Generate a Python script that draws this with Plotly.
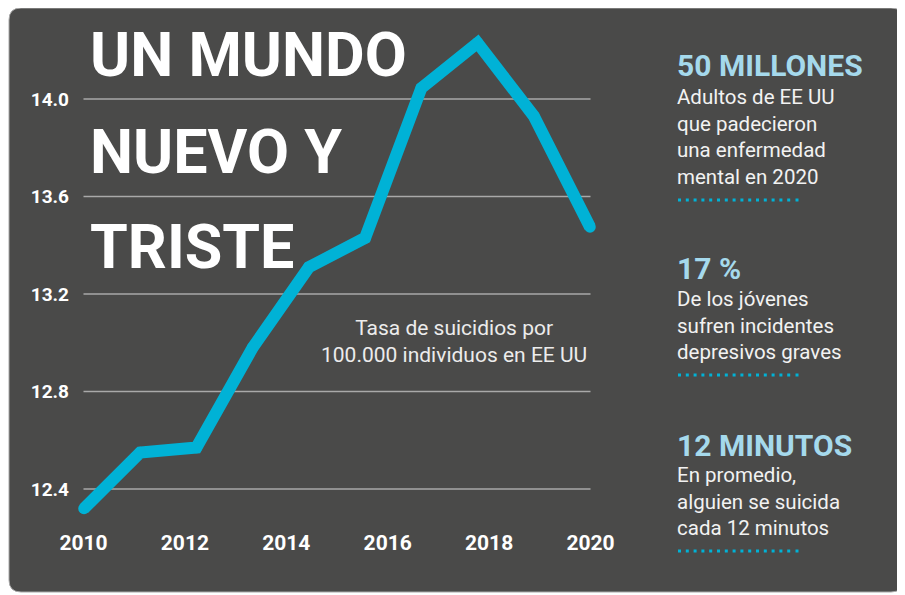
import plotly.graph_objects as go

# ---------------- data ----------------
sample = [1, 2, 3, 4, 5, 6, 7, 8, 9, 10]
rate = [12.32, 12.55, 12.57, 12.98, 13.31, 13.43, 14.045, 14.23, 13.93, 13.475]
x_ticks = [2010, 2012, 2014, 2016, 2018, 2020]
x_labels = ["2010", "2012", "2014", "2016", "2018", "2020"]
y_ticks = [12.4, 12.8, 13.2, 13.6, 14.0]
y_labels = ["12.4", "12.8", "13.2", "13.6", "14.0"]

title_lines = ["UN MUNDO", "NUEVO Y", "TRISTE"]
chart_note = "Tasa de suicidios por<br>100.000 individuos en EE UU"
facts_head = ["50 MILLONES", "17 %", "12 MINUTOS"]
facts_body = [
    "Adultos de EE UU<br>que padecieron<br>una enfermedad<br>mental en 2020",
    "De los jóvenes<br>sufren incidentes<br>depresivos graves",
    "En promedio,<br>alguien se suicida<br>cada 12 minutos",
]

# ---------------- geometry (page pixel coordinates) ----------------
PAGE_W, PAGE_H = 905, 595
OFF = 8  # default body margin of the html page
L, R, T, B = 74, 601, 26, 526
PW, PH = R - L, B - T

def year_at(px):
    return 2010 + (px - 83.5) / 50.7

def idx_at(px):
    return 1 + (px - 84) / ((590 - 84) / 9)

def val_at(py):
    return 14.0 - (py - 99) / 243.75

def xp(px):
    return (px - L) / PW

def yp(py):
    return 1 - (py - T) / PH

PANEL = "#4a4a49"
CYAN = "#00b2d6"
LIGHTBLUE = "#a5d9ec"
BOLD = "Roboto"

fig = go.Figure()
fig.add_trace(go.Scatter(
    x=sample, y=rate, xaxis="x2", yaxis="y",
    mode="lines+markers",
    line=dict(color=CYAN, width=12),
    marker=dict(color=CYAN, size=11.5, line=dict(width=0)),
    cliponaxis=False, hoverinfo="skip", showlegend=False,
))

# panel with rounded corners
x0, y0, x1, y1, r = 9, 8, 903, 592, 12
path = (
    f"M {xp(x0 + r)} {yp(y0)} L {xp(x1 - r)} {yp(y0)} "
    f"Q {xp(x1)} {yp(y0)} {xp(x1)} {yp(y0 + r)} "
    f"L {xp(x1)} {yp(y1 - r)} Q {xp(x1)} {yp(y1)} {xp(x1 - r)} {yp(y1)} "
    f"L {xp(x0 + r)} {yp(y1)} Q {xp(x0)} {yp(y1)} {xp(x0)} {yp(y1 - r)} "
    f"L {xp(x0)} {yp(y0 + r)} Q {xp(x0)} {yp(y0)} {xp(x0 + r)} {yp(y0)} Z"
)
shapes = [dict(type="path", path=path, xref="paper", yref="paper",
               fillcolor=PANEL, line=dict(color="#a8a8a8", width=1), layer="below")]

# gridlines
for v in y_ticks:
    shapes.append(dict(type="line", xref="x", yref="y", x0=2010, x1=2020, y0=v, y1=v,
                       line=dict(color="#a9a9a9", width=1.3), layer="below"))

# dotted separators on right
for py in [200, 375, 551]:
    shapes.append(dict(type="line", xref="paper", yref="paper",
                       x0=xp(678), x1=xp(794), y0=yp(py), y1=yp(py),
                       line=dict(color=CYAN, width=3, dash="3px,4.8px")))
    shapes.append(dict(type="line", xref="paper", yref="paper",
                       x0=xp(795.5), x1=xp(798.5), y0=yp(py), y1=yp(py),
                       line=dict(color=CYAN, width=3)))

annotations = []
for line, cy in zip(title_lines, [53, 149.5, 245]):
    annotations.append(dict(text=line, xref="paper", yref="paper", x=xp(88), y=yp(cy + 2),
                            xanchor="left", yanchor="middle", showarrow=False,
                            font=dict(family=BOLD, size=61, color="white", weight="bold")))

annotations.append(dict(text=chart_note, xref="paper", yref="paper", x=xp(454), y=yp(341),
                        xanchor="center", yanchor="middle", showarrow=False, align="center",
                        font=dict(family="Roboto", size=21, color="#ececec")))

for head, cy in zip(facts_head, [66, 268, 445]):
    annotations.append(dict(text=head, xref="paper", yref="paper", x=xp(675), y=yp(cy),
                            xanchor="left", yanchor="middle", showarrow=False,
                            font=dict(family=BOLD, size=30, color=LIGHTBLUE, weight="bold")))
for body, cy in zip(facts_body, [137, 326, 502]):
    annotations.append(dict(text=body, xref="paper", yref="paper", x=xp(675), y=yp(cy - 0.5),
                            xanchor="left", yanchor="middle", showarrow=False, align="left",
                            font=dict(family="Roboto", size=20.5, color="#f2f2f2")))

fig.update_layout(
    width=PAGE_W - OFF, height=PAGE_H - OFF,
    margin=dict(l=L - OFF, r=PAGE_W - R, t=T - OFF, b=PAGE_H - B, pad=0),
    paper_bgcolor="white", plot_bgcolor="rgba(0,0,0,0)",
    xaxis=dict(range=[year_at(L), year_at(R)], tickvals=x_ticks, ticktext=x_labels,
               showgrid=False, zeroline=False, showline=False, ticks="",
               ticklabelstandoff=2,
               tickfont=dict(family=BOLD, size=21, color="white", weight="bold")),
    xaxis2=dict(range=[idx_at(L), idx_at(R)], overlaying="x", visible=False),
    yaxis=dict(range=[val_at(B), val_at(T)], tickvals=y_ticks, ticktext=y_labels,
               showgrid=False, zeroline=False, showline=False, ticks="",
               ticklabelstandoff=4,
               tickfont=dict(family=BOLD, size=19, color="white", weight="bold")),
    shapes=shapes, annotations=annotations,
)

fig.write_html("out.html")
